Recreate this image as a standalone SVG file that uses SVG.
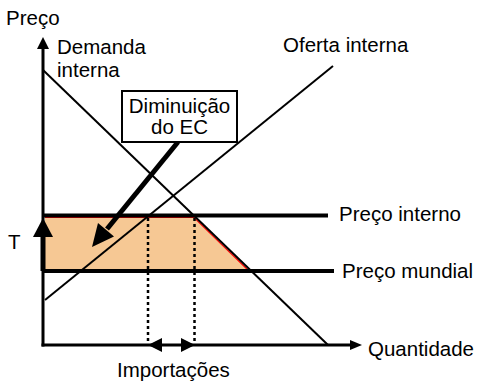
<svg xmlns="http://www.w3.org/2000/svg" width="480" height="383" viewBox="0 0 480 383">
<style>
text{font-family:"Liberation Sans",Arial,sans-serif;font-size:20.5px;fill:#000}
.ln{stroke:#000;fill:none;stroke-linecap:butt}
.dot{stroke:#000;stroke-width:2.5;stroke-dasharray:3 3;fill:none}
</style>
<rect width="480" height="383" fill="#fff"/>
<g id="area">
<polygon points="45,217.5 194,217.5 249,271 45,271" fill="#f6c894"/>
<path d="M45,217.5 H194 L249,271" stroke="#ff0000" stroke-width="1.2" fill="none"/>
</g>
<g id="connectors">
<line class="ln" x1="43" y1="70" x2="328" y2="345" stroke-width="2"/>
<line class="ln" x1="45" y1="300" x2="333" y2="66" stroke-width="2"/>
<line class="ln" x1="43" y1="215.5" x2="328" y2="215.5" stroke-width="4"/>
<line class="ln" x1="43" y1="271" x2="334" y2="271" stroke-width="4"/>
<line class="dot" x1="148" y1="218" x2="148" y2="344"/>
<line class="dot" x1="194.5" y1="218" x2="194.5" y2="344"/>
<line class="ln" x1="43" y1="346.5" x2="43" y2="47" stroke-width="3"/>
<polygon points="43,37 37,49 49,49"/>
<line class="ln" x1="41.5" y1="345" x2="351" y2="345" stroke-width="3"/>
<polygon points="362,345 350,340 350,350"/>
<polygon points="148,345 162,338 162,352"/>
<polygon points="195,345 181,338 181,352"/>
<line class="ln" x1="43" y1="236" x2="43" y2="271" stroke-width="5"/>
<polygon points="43,218 33,237 53,237"/>
<line class="ln" x1="178" y1="142" x2="107" y2="229" stroke-width="5"/>
<polygon points="92,247 98,223 114,236.5"/>
</g>
<g id="box-diminuicao">
<rect x="122" y="91" width="115" height="51" fill="#fff" stroke="#000" stroke-width="2"/>
<text x="179.5" y="113" text-anchor="middle" font-size="21">Diminuição</text>
<text x="179.5" y="134" text-anchor="middle" font-size="21">do EC</text>
</g>
<g id="label-preco"><text x="6" y="25">Preço</text></g>
<g id="label-demanda"><text x="57" y="54">Demanda</text><text x="57" y="77">interna</text></g>
<g id="label-oferta"><text x="283" y="52">Oferta interna</text></g>
<g id="label-preco-interno"><text x="339" y="221">Preço interno</text></g>
<g id="label-preco-mundial"><text x="342" y="278">Preço mundial</text></g>
<g id="label-quantidade"><text x="368" y="356">Quantidade</text></g>
<g id="label-importacoes"><text x="117" y="377">Importações</text></g>
<g id="label-t"><text x="8" y="249">T</text></g>
</svg>
